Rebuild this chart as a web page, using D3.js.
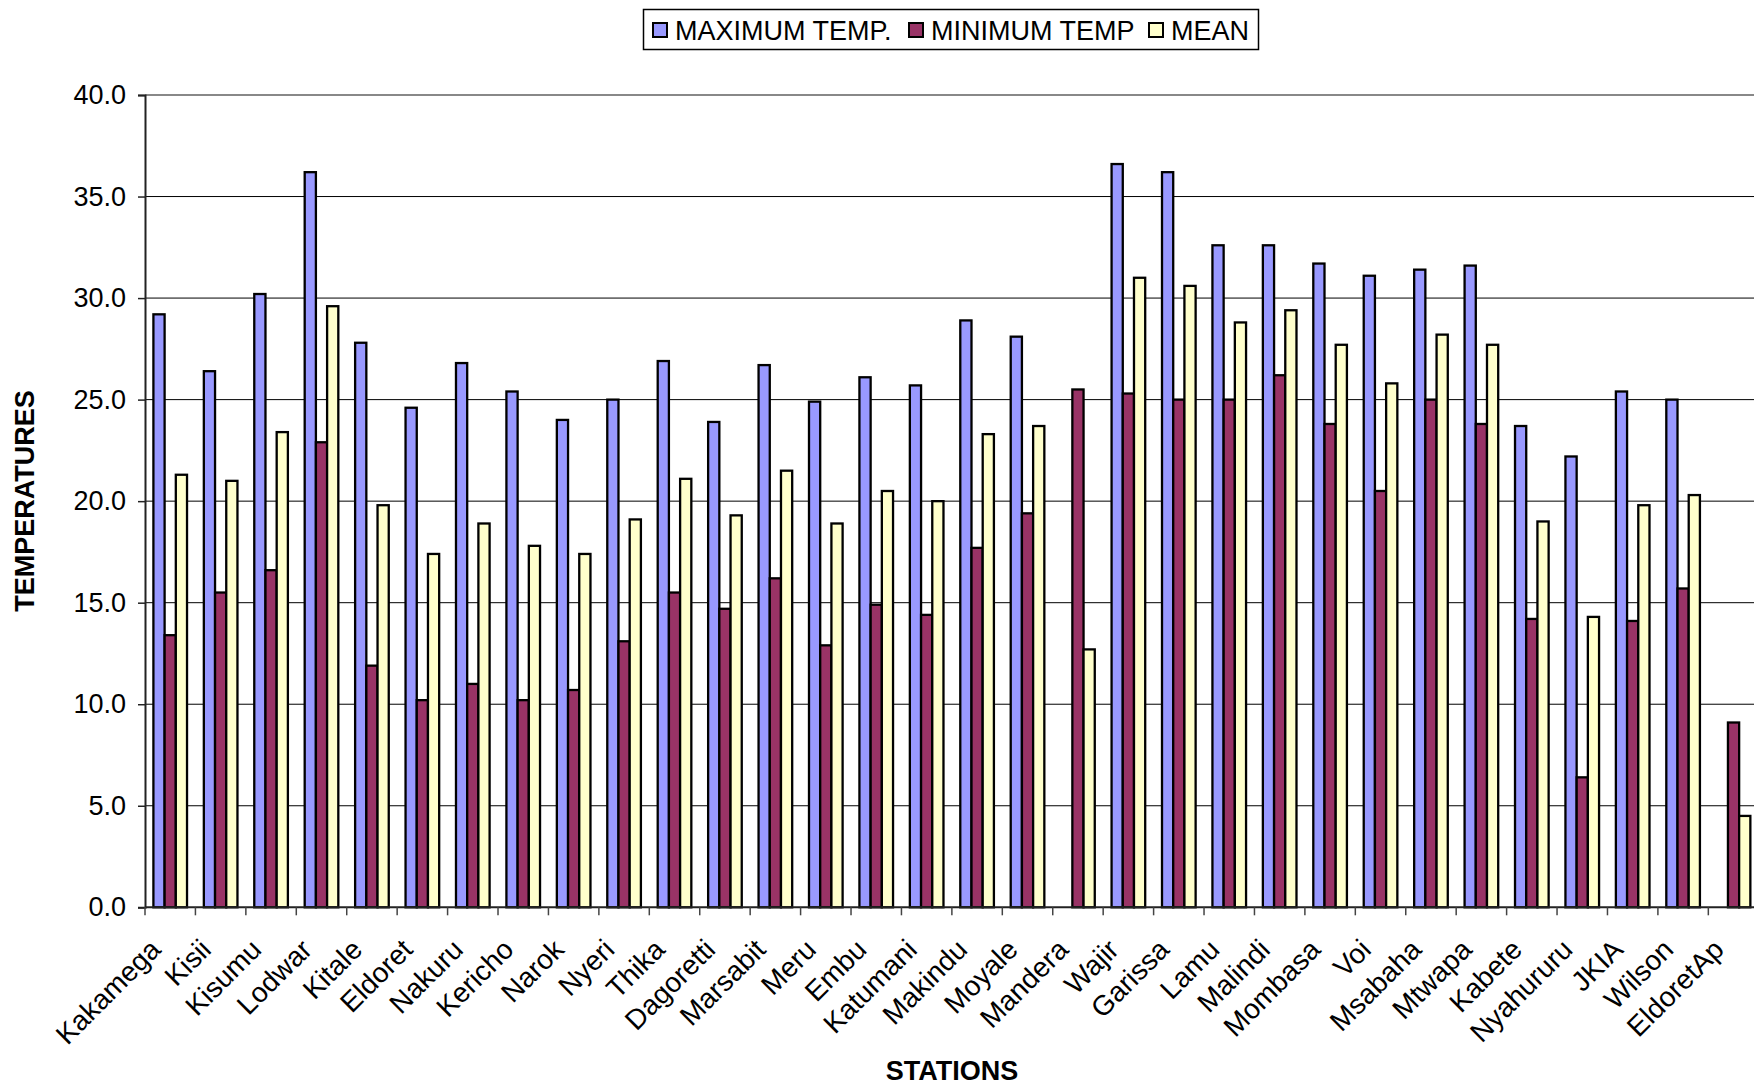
<!DOCTYPE html>
<html>
<head>
<meta charset="utf-8">
<script src="https://cdn.jsdelivr.net/npm/d3@7"></script>
<style>
  html, body { margin: 0; padding: 0; background: #fff; }
  text { font-family: "Liberation Sans", Arial, sans-serif; }
</style>
</head>
<body>
<div id="container"></div>
<script>
const width = 1754;
const height = 1087;

// data
const stations = ["Kakamega", "Kisii", "Kisumu", "Lodwar", "Kitale", "Eldoret", "Nakuru", "Kericho",
    "Narok", "Nyeri", "Thika", "Dagoretti", "Marsabit", "Meru", "Embu", "Katumani", "Makindu",
    "Moyale", "Mandera", "Wajir", "Garissa", "Lamu", "Malindi", "Mombasa", "Voi", "Msabaha",
    "Mtwapa", "Kabete", "Nyahururu", "JKIA", "Wilson", "EldoretAp"];
const maxTemp = [29.2, 26.4, 30.2, 36.2, 27.8, 24.6, 26.8, 25.4, 24.0, 25.0, 26.9, 23.9, 26.7,
    24.9, 26.1, 25.7, 28.9, 28.1, null, 36.6, 36.2, 32.6, 32.6, 31.7, 31.1, 31.4, 31.6, 23.7,
    22.2, 25.4, 25.0, null];
const minTemp = [13.4, 15.5, 16.6, 22.9, 11.9, 10.2, 11.0, 10.2, 10.7, 13.1, 15.5, 14.7, 16.2,
    12.9, 14.9, 14.4, 17.7, 19.4, 25.5, 25.3, 25.0, 25.0, 26.2, 23.8, 20.5, 25.0, 23.8, 14.2,
    6.4, 14.1, 15.7, 9.1];
const meanTemp = [21.3, 21.0, 23.4, 29.6, 19.8, 17.4, 18.9, 17.8, 17.4, 19.1, 21.1, 19.3, 21.5,
    18.9, 20.5, 20.0, 23.3, 23.7, 12.7, 31.0, 30.6, 28.8, 29.4, 27.7, 25.8, 28.2, 27.7, 19.0,
    14.3, 19.8, 20.3, 4.5];
const seriesNames = ["MAXIMUM TEMP.", "MINIMUM TEMP", "MEAN"];
const seriesColors = ["#9999FF", "#993366", "#FFFFCC"];
const yTicks = [0, 5, 10, 15, 20, 25, 30, 35, 40];

const rows = stations.map((s, i) => ({
    station: s,
    values: [maxTemp[i], minTemp[i], meanTemp[i]].map((v, k) => ({ k: k, v: v }))
}));

const plotLeft = 145;
const plotRight = 145 + 32 * 50.43;
const plotTop = 95;
const plotBottom = 907.3;

const svg = d3.select("#container").append("svg")
    .attr("width", width)
    .attr("height", height);

const x0 = d3.scaleBand()
    .domain(stations)
    .range([plotLeft, plotRight])
    .padding(0);

const x1 = d3.scaleBand()
    .domain([0, 1, 2])
    .range([0, x0.bandwidth()])
    .paddingInner(0)
    .paddingOuter(0.75);

const y = d3.scaleLinear()
    .domain([0, 40])
    .range([plotBottom, plotTop]);

// gridlines
svg.append("g")
    .selectAll("line")
    .data(yTicks.filter(d => d > 0))
    .enter()
    .append("line")
    .attr("x1", plotLeft)
    .attr("x2", plotRight)
    .attr("y1", d => y(d))
    .attr("y2", d => y(d))
    .attr("stroke", d => d === 40 ? "#888" : "#000")
    .attr("stroke-width", d => d === 40 ? 2 : 1);

// bars
const groups = svg.append("g")
    .selectAll("g")
    .data(rows)
    .enter()
    .append("g")
    .attr("transform", d => `translate(${x0(d.station)},0)`);

groups.selectAll("rect")
    .data(d => d.values.filter(e => e.v != null))
    .enter()
    .append("rect")
    .attr("x", d => x1(d.k))
    .attr("y", d => y(d.v))
    .attr("width", x1.bandwidth())
    .attr("height", d => y(0) - y(d.v))
    .attr("fill", d => seriesColors[d.k])
    .attr("stroke", "#000")
    .attr("stroke-width", 2.3);

// y axis
const yAxis = svg.append("g")
    .attr("transform", `translate(${plotLeft},0)`)
    .call(d3.axisLeft(y)
        .tickValues(yTicks)
        .tickFormat(d3.format(".1f"))
        .tickSize(7)
        .tickPadding(12));
yAxis.select(".domain").attr("stroke", "#222").attr("stroke-width", 2);
yAxis.selectAll(".tick line").attr("stroke", "#222").attr("stroke-width", 1.5);
yAxis.selectAll(".tick text")
    .attr("fill", "#000")
    .style("font-size", "27px")
    .style("font-family", "'Liberation Sans', Arial, sans-serif");

// x axis line and boundary ticks
svg.append("line")
    .attr("x1", plotLeft)
    .attr("x2", plotRight)
    .attr("y1", plotBottom)
    .attr("y2", plotBottom)
    .attr("stroke", "#222")
    .attr("stroke-width", 2);

svg.append("g")
    .selectAll("line")
    .data(stations)
    .enter()
    .append("line")
    .attr("x1", d => x0(d))
    .attr("x2", d => x0(d))
    .attr("y1", plotBottom)
    .attr("y2", plotBottom + 8)
    .attr("stroke", "#444")
    .attr("stroke-width", 1.5);

svg.append("g")
    .selectAll("text")
    .data(stations)
    .enter()
    .append("text")
    .attr("transform", d => `translate(${x0(d) + x0.bandwidth() / 2 - 8},${plotBottom + 44}) rotate(-45)`)
    .attr("text-anchor", "end")
    .style("font-size", "28px")
    .text(d => d);

// axis titles
svg.append("text")
    .attr("transform", "translate(34,501) rotate(-90)")
    .attr("text-anchor", "middle")
    .style("font-size", "27px")
    .style("font-weight", "bold")
    .text("TEMPERATURES");

svg.append("text")
    .attr("x", 952)
    .attr("y", 1080)
    .attr("text-anchor", "middle")
    .style("font-size", "27px")
    .style("font-weight", "bold")
    .text("STATIONS");

// legend
const legend = svg.append("g");
legend.append("rect")
    .attr("x", 643.5)
    .attr("y", 9.5)
    .attr("width", 615)
    .attr("height", 40)
    .attr("fill", "#fff")
    .attr("stroke", "#000")
    .attr("stroke-width", 1.5);

const legendX = [653, 909, 1149];
const items = legend.selectAll("g.item")
    .data(seriesNames)
    .enter()
    .append("g")
    .attr("class", "item")
    .attr("transform", (d, i) => `translate(${legendX[i]},0)`);

items.append("rect")
    .attr("x", 0)
    .attr("y", 23)
    .attr("width", 14)
    .attr("height", 14)
    .attr("fill", (d, i) => seriesColors[i])
    .attr("stroke", "#000")
    .attr("stroke-width", 2);

items.append("text")
    .attr("x", 22)
    .attr("y", 40)
    .style("font-size", "27px")
    .text(d => d);
</script>
</body>
</html>
